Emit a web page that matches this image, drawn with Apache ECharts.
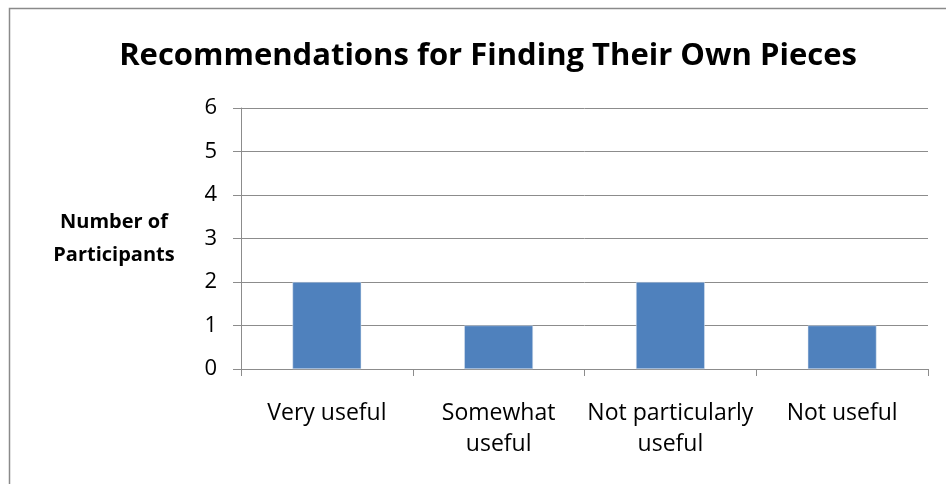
<!DOCTYPE html>
<html>
<head>
<meta charset="utf-8">
<script src="https://cdn.jsdelivr.net/npm/echarts@6/dist/echarts.min.js"></script>
<style>html,body{margin:0;padding:0;background:#fff}#c{width:946px;height:484px}</style>
</head>
<body>
<div id="c"></div>
<script>
const titleText = 'Recommendations for Finding Their Own Pieces';
const categories = ['Very useful', 'Somewhat\nuseful', 'Not particularly\nuseful', 'Not useful'];
const values = [2, 1, 2, 1];
const yTicks = [0, 1, 2, 3, 4, 5, 6];
const yName = 'Number of\nParticipants';

const FONT = '"Open Sans", "Noto Sans", sans-serif';
const lineCol = '#8c8c8c';
const chart = echarts.init(document.getElementById('c'), null, {renderer: 'canvas'});
chart.setOption({
  animation: false,
  backgroundColor: '#fff',
  graphic: [{
    type: 'rect', z: -1, silent: true,
    shape: {x: 9.5, y: 8.5, width: 1000, height: 1000},
    style: {fill: 'none', stroke: '#8a8a8a', lineWidth: 1.5}
  }],
  title: {
    text: titleText, left: 483, top: 36, textAlign: 'center',
    textStyle: {fontFamily: FONT, fontWeight: 'bold', fontSize: 31, color: '#000'}
  },
  grid: {left: 241, right: 18, top: 108, bottom: 115},
  xAxis: {
    type: 'category', data: categories,
    axisLine: {lineStyle: {color: lineCol, width: 1}},
    axisTick: {show: true, length: 7, lineStyle: {color: lineCol}},
    axisLabel: {fontFamily: FONT, fontSize: 23, color: '#000', margin: 29, lineHeight: 31, interval: 0}
  },
  yAxis: {
    type: 'value', min: yTicks[0], max: yTicks[yTicks.length - 1], interval: 1,
    name: yName, nameLocation: 'middle', nameRotate: 0, nameGap: 127,
    nameTextStyle: {fontFamily: FONT, fontWeight: 'bold', fontSize: 20, color: '#000', align: 'center', lineHeight: 33, padding: [10, 0, 0, 0]},
    axisLine: {show: true, lineStyle: {color: lineCol, width: 1}},
    axisTick: {show: true, length: 8, lineStyle: {color: lineCol}},
    splitLine: {lineStyle: {color: lineCol, width: 1}},
    axisLabel: {fontFamily: FONT, fontSize: 22, color: '#000', margin: 24}
  },
  series: [{
    type: 'bar', data: values, barWidth: '40%',
    itemStyle: {color: '#4F81BD', borderColor: '#dfe6f0', borderWidth: 0.5}
  }]
});
</script>
</body>
</html>
